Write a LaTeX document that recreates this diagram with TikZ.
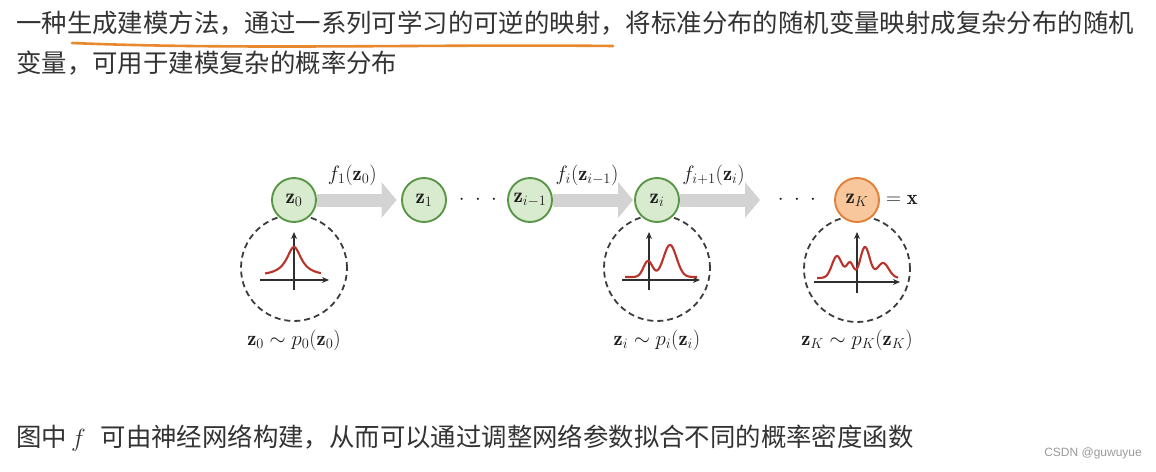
\documentclass[tikz,border=0pt]{standalone}
\usepackage{fontspec}
\usepackage{amsmath,amssymb}
\newfontfamily\cjk{Noto Sans CJK SC}
\newfontfamily\wmfont{Liberation Sans}
\usetikzlibrary{arrows.meta,positioning,calc}

\definecolor{vgreen}{HTML}{D8EBCE}
\definecolor{vgreenline}{HTML}{5A9647}
\definecolor{vorange}{HTML}{F8C79C}
\definecolor{vorangeline}{HTML}{E0803A}
\definecolor{flowgray}{HTML}{D3D3D3}
\definecolor{distgray}{HTML}{3C3C3C}
\definecolor{densred}{HTML}{B8332A}
\definecolor{axisgray}{HTML}{2E2E2E}
\definecolor{mathtxt}{HTML}{1E1E1E}
\definecolor{cntxt}{HTML}{333333}
\definecolor{markorange}{HTML}{E8892F}
\definecolor{wmgray}{HTML}{9A9A9A}

\tikzset{
  var/.style={circle, draw=vgreenline, fill=vgreen, line width=1.9pt, minimum size=44pt,
    inner sep=0pt, text=mathtxt, font=\fontsize{21}{24}\selectfont},
  varK/.style={var, draw=vorangeline, fill=vorange},
  distcircle/.style={circle, draw=distgray, dash pattern=on 6pt off 4pt, line width=1.8pt,
    minimum size=106pt, inner sep=0pt},
  flow/.style={draw=flowgray, line width=13pt, -{Triangle[width=35pt,length=15pt]}},
  flowlbl/.style={pos=0.42, yshift=25pt, inner sep=0pt, text=mathtxt, font=\fontsize{20.5}{24}\selectfont},
  density/.style={draw=densred, line width=2.1pt, line join=round, smooth},
  axis/.style={draw=axisgray, line width=1.7pt, -{Stealth[length=7pt,width=6pt]}},
  mathlbl/.style={inner sep=0pt, text=mathtxt, font=\fontsize{20.5}{24}\selectfont},
  cntext/.style={anchor=base west, inner sep=0pt, text=cntxt, font=\cjk\fontsize{25.4}{30}\selectfont},
}

\begin{document}
\begin{tikzpicture}[x=1pt,y=-1pt]
\useasboundingbox[fill=white] (0,0) rectangle (1156,471);

% text above and below the diagram
\node[cntext] (line1) at (16,32) {一种生成建模方法，通过一系列可学习的可逆的映射，将标准分布的随机变量映射成复杂分布的随机};
\node[cntext] (line2) at (16,72.5) {变量，可用于建模复杂的概率分布};
\draw[markorange, line width=2.6pt, line cap=round] (72,43) .. controls (240,50) and (430,44) .. (613,46);
\node[cntext] (note) at (16,446.5) {图中\hspace{4pt}$f$\hspace{15pt}可由神经网络构建，从而可以通过调整网络参数拟合不同的概率密度函数};
\node[anchor=east, inner sep=0pt, text=wmgray, font=\wmfont\fontsize{12}{14}\selectfont] (wm) at (1142,453) {CSDN @guwuyue};

% densities
\node[distcircle] (d0) at (294,268) {};
\node[distcircle] (di) at (657,268) {};
\node[distcircle] (dK) at (857,269) {};

\begin{scope}[shift={(d0.center)}]
  \draw[axis] (-34,12) -- (35,12);
  \draw[axis] (0,22) -- (0,-36);
  \draw[density] plot[domain=-29:27, samples=50] (\x, {8-29/(1+(\x/9)*(\x/9))});
\end{scope}
\begin{scope}[shift={(di.center)}]
  \draw[axis] (-35,12) -- (43,12);
  \draw[axis] (-8,22) -- (-8,-36);
  \draw[density] plot[domain=-32:40, samples=70]
    (\x, {9-16*exp(-((\x+9)*(\x+9))/40.5)-32*exp(-((\x-13)*(\x-13))/84.5)});
\end{scope}
\begin{scope}[shift={(dK.center)}]
  \draw[axis] (-43,13) -- (43,13);
  \draw[axis] (0,24) -- (0,-37);
  \draw[density] plot[domain=-40:41, samples=90]
    (\x, {9-22*exp(-((\x+20)*(\x+20))/50)-15*exp(-((\x+7)*(\x+7))/24)
          -31*exp(-((\x-8)*(\x-8))/45)-15*exp(-((\x-26)*(\x-26))/65)});
\end{scope}

\node[mathlbl] (p0) at (294,340) {$\mathbf{z}_0\sim p_0(\mathbf{z}_0)$};
\node[mathlbl] (pi) at (657,340) {$\mathbf{z}_i\sim p_i(\mathbf{z}_i)$};
\node[mathlbl] (pK) at (857,340) {$\mathbf{z}_K\sim p_K(\mathbf{z}_K)$};

% flow chain
\node[var] (z0) at (294,200) {$\mathbf{z}_0$};
\node[var] (z1) at (424,200) {$\mathbf{z}_1$};
\node[mathlbl] (dots1) at (478,200) {$\cdot\;\cdot\;\cdot$};
\node[var] (zim1) at (530,200) {$\mathbf{z}_{i-1}$};
\node[var] (zi) at (657,200) {$\mathbf{z}_i$};
\coordinate (zinext) at (760,200);
\node[mathlbl] (dots2) at (797,200) {$\cdot\;\cdot\;\cdot$};
\node[var, varK] (zK) at (857,200) {$\mathbf{z}_K$};
\node[mathlbl, right=6pt of zK] (x) {$=\mathbf{x}$};

\draw[flow, shorten >=4.5pt] (z0) -- (z1) node[flowlbl] {$f_1(\mathbf{z}_0)$};
\draw[flow, shorten >=1pt] (zim1) -- (zi) node[flowlbl] {$f_i(\mathbf{z}_{i-1})$};
\draw[flow] (zi) -- (zinext) node[flowlbl] {$f_{i+1}(\mathbf{z}_i)$};
\end{tikzpicture}
\end{document}
